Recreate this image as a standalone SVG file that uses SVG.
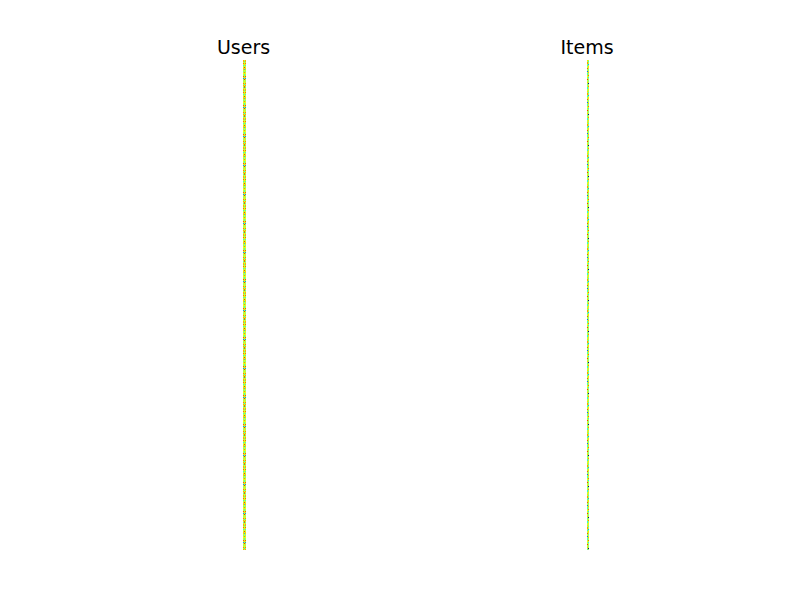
<svg xmlns="http://www.w3.org/2000/svg" width="812" height="612" viewBox="0 0 812 612">
<style>
.t{font-family:"DejaVu Sans",sans-serif;font-size:19px;fill:#000;text-anchor:middle}
</style>
<defs>
<pattern id="pu" patternUnits="userSpaceOnUse" x="1" y="60" width="2" height="29">
<rect width="2" height="29" fill="#c8ff30"/>
<rect x="0" y="0" width="1" height="2" fill="#ffb000"/>
<rect x="1" y="1" width="1" height="1" fill="#40ffb6"/>
<rect x="0" y="3" width="1" height="1" fill="#ff6a00"/>
<rect x="1" y="4" width="1" height="2" fill="#ffe000"/>
<rect x="0" y="5" width="1" height="1" fill="#30ffc8"/>
<rect x="1" y="7" width="1" height="1" fill="#ff3a00"/>
<rect x="0" y="8" width="1" height="2" fill="#ffd000"/>
<rect x="1" y="9" width="1" height="1" fill="#00c8ff"/>
<rect x="0" y="11" width="1" height="1" fill="#80ff7f"/>
<rect x="1" y="12" width="1" height="1" fill="#ff9000"/>
<rect x="0" y="13" width="1" height="1" fill="#f0ff10"/>
<rect x="1" y="14" width="1" height="2" fill="#50ffa8"/>
<rect x="0" y="16" width="1" height="1" fill="#ff5000"/>
<rect x="1" y="17" width="1" height="1" fill="#ffc000"/>
<rect x="0" y="18" width="1" height="1" fill="#0090ff"/>
<rect x="1" y="19" width="1" height="1" fill="#ff2000"/>
<rect x="0" y="20" width="1" height="2" fill="#a0ff58"/>
<rect x="1" y="21" width="1" height="1" fill="#ffe800"/>
<rect x="0" y="23" width="1" height="1" fill="#ff8000"/>
<rect x="1" y="24" width="1" height="1" fill="#20f0e0"/>
<rect x="0" y="25" width="1" height="1" fill="#ffa800"/>
<rect x="1" y="26" width="1" height="2" fill="#ff6000"/>
<rect x="0" y="27" width="1" height="1" fill="#60ff98"/>
</pattern>
<pattern id="pi" patternUnits="userSpaceOnUse" x="1" y="60" width="2" height="31">
<rect width="2" height="31" fill="#b8ff40"/>
<rect x="0" y="0" width="1" height="1" fill="#ffd800"/>
<rect x="1" y="1" width="1" height="1" fill="#40ffb6"/>
<rect x="0" y="2" width="1" height="2" fill="#ff9800"/>
<rect x="1" y="4" width="1" height="1" fill="#00b0ff"/>
<rect x="0" y="5" width="1" height="1" fill="#30ffc8"/>
<rect x="1" y="6" width="1" height="2" fill="#ffe000"/>
<rect x="0" y="8" width="1" height="1" fill="#ff5000"/>
<rect x="1" y="9" width="1" height="1" fill="#70ff88"/>
<rect x="0" y="11" width="1" height="1" fill="#0060ff"/>
<rect x="1" y="12" width="1" height="1" fill="#ffb800"/>
<rect x="0" y="13" width="1" height="2" fill="#48ffb0"/>
<rect x="1" y="15" width="1" height="1" fill="#ff7000"/>
<rect x="0" y="16" width="1" height="1" fill="#f8ff08"/>
<rect x="1" y="17" width="1" height="1" fill="#20e8f0"/>
<rect x="0" y="19" width="1" height="1" fill="#ff3000"/>
<rect x="1" y="20" width="1" height="2" fill="#90ff68"/>
<rect x="0" y="22" width="1" height="1" fill="#ffc800"/>
<rect x="1" y="23" width="1" height="1" fill="#000090"/>
<rect x="0" y="24" width="1" height="1" fill="#50ffa8"/>
<rect x="1" y="26" width="1" height="1" fill="#ff8800"/>
<rect x="0" y="27" width="1" height="2" fill="#30f8d0"/>
<rect x="1" y="29" width="1" height="1" fill="#ffe800"/>
</pattern>
</defs>
<rect width="812" height="612" fill="#fff"/>
<g id="users">
<text class="t" x="243.5" y="54">Users</text>
<rect x="243" y="60" width="3" height="490" fill="url(#pu)"/>
</g>
<g id="items">
<text class="t" x="587" y="54">Items</text>
<rect x="587" y="60" width="2" height="490" fill="url(#pi)"/>
</g>
</svg>
